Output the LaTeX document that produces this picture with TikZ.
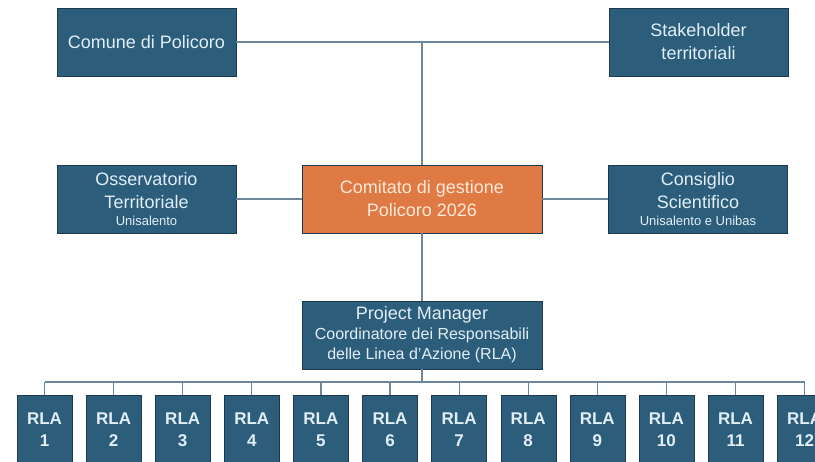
\documentclass[tikz,border=0pt]{standalone}
\usepackage{fontspec}
\setmainfont{Liberation Sans}
\usetikzlibrary{positioning}

\definecolor{boxblue}{RGB}{44,94,124}
\definecolor{boxedge}{RGB}{28,58,78}
\definecolor{boxorange}{RGB}{224,122,68}
\definecolor{linkgray}{RGB}{108,134,158}
\definecolor{bluetext}{RGB}{226,238,245}
\definecolor{orangetext}{RGB}{252,232,216}

\newcommand{\subtext}[1]{{\fontsize{13}{15}\selectfont #1}}

\begin{document}
\begin{tikzpicture}[x=1pt,y=-1pt,
  unit/.style={draw=boxedge,fill=boxblue,text=bluetext,minimum width=179pt,
    minimum height=68pt,align=center,inner sep=2pt,
    font=\fontsize{18}{23}\selectfont},
  core/.style={unit,fill=boxorange,text=orangetext,minimum width=240pt},
  rla/.style={unit,minimum width=55pt,minimum height=70pt,
    font=\fontsize{17}{22}\selectfont\bfseries},
  link/.style={draw=linkgray,line width=1.2pt}]
  \clip (0,0) rectangle (815,462);
  \fill[white] (0,0) rectangle (815,462);
  % top row
  \node[unit] (comune) at (146.5,42) {Comune di Policoro};
  \node[unit] (stakeholder) at (698.5,42) {Stakeholder\\territoriali};
  % middle row
  \node[unit] (osservatorio) at (146.5,199)
    {Osservatorio\\Territoriale\\[-6pt]\subtext{Unisalento}};
  \node[core] (comitato) at (422,199) {Comitato di gestione\\Policoro 2026};
  \node[unit] (consiglio) at (698,199)
    {Consiglio\\Scientifico\\[-6pt]\subtext{Unisalento e Unibas}};
  % project manager
  \node[unit,minimum width=240pt] (pm) at (422,335)
    {Project Manager\\[-3pt]
     {\fontsize{16}{20}\selectfont Coordinatore dei Responsabili}\\[-3pt]
     {\fontsize{16}{20}\selectfont delle Linea d'Azione (RLA)}};
  % connectors
  \coordinate (top) at (comitato |- comune);
  \coordinate (bus) at (422,382);
  \draw[link] (comune) -- (stakeholder);
  \draw[link] (top) -- (comitato);
  \draw[link] (osservatorio) -- (comitato);
  \draw[link] (comitato) -- (consiglio);
  \draw[link] (comitato) -- (pm);
  \draw[link] (pm) -- (bus);
  % RLA row
  \foreach \i in {1,...,12}{
    \node[rla] (rla\i) at ({44.5+69.1*(\i-1)},430) {RLA\\\i};
    \draw[link] (rla\i |- bus) -- (rla\i);
  }
  \draw[link] (rla1 |- bus) -- (rla12 |- bus);
\end{tikzpicture}
\end{document}
